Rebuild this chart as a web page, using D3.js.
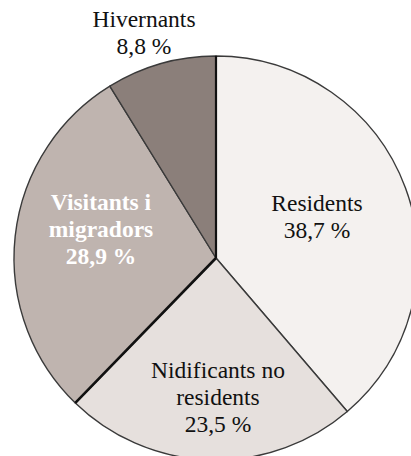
<!DOCTYPE html>
<html>
<head>
<meta charset="utf-8">
<script src="https://cdn.jsdelivr.net/npm/d3@7"></script>
<style>
  body { margin: 0; background: #fff; }
</style>
</head>
<body>
<script>
// bird status shares (%)
var categories = ['Residents', 'Nidificants no residents', 'Visitants i migradors', 'Hivernants'];
var shares = [38.7, 23.5, 28.9, 8.8];
var shareLabels = ['38,7 %', '23,5 %', '28,9 %', '8,8 %'];
var labelLines = [['Residents'], ['Nidificants no', 'residents'], ['Visitants i', 'migradors'], ['Hivernants']];
var sliceColors = ['#f4f1ef', '#e6e0dd', '#bfb4af', '#8b7f7a'];

var width = 411, height = 456;
var cx = 216, cy = 258, radius = 202;

var svg = d3.select('body').append('svg')
  .attr('width', width)
  .attr('height', height);

var pie = d3.pie().sort(null).value(function(d) { return d; });
var arc = d3.arc().innerRadius(0).outerRadius(radius);
var arcs = pie(shares);

var g = svg.append('g').attr('transform', 'translate(' + cx + ',' + cy + ')');

g.selectAll('path')
  .data(arcs)
  .enter()
  .append('path')
  .attr('d', arc)
  .style('fill', function(d, i) { return sliceColors[i]; })
  .style('stroke', '#3a3a3a')
  .style('stroke-width', 1.4)
  .style('stroke-linejoin', 'round');

// the darker radial edges of the original
function edge(angle, w) {
  g.append('line')
    .attr('x1', 0).attr('y1', 0)
    .attr('x2', radius * Math.sin(angle))
    .attr('y2', -radius * Math.cos(angle))
    .style('stroke', '#111')
    .style('stroke-width', w);
}
edge(arcs[0].startAngle, 2.2);
edge(arcs[1].endAngle, 2.6);

// label anchors
var labelPos = [
  {x: 317, y: 211, color: '#111', weight: 'normal'},
  {x: 218, y: 378, color: '#111', weight: 'normal'},
  {x: 101, y: 210, color: '#fff', weight: 'bold'},
  {x: 144, y: 27, color: '#111', weight: 'normal'}
];
var lineH = 27;

categories.forEach(function(c, i) {
  var p = labelPos[i];
  var lines = labelLines[i].concat([shareLabels[i]]);
  var t = svg.append('text')
    .attr('text-anchor', 'middle')
    .attr('fill', p.color)
    .style('font-family', "'Liberation Serif', 'Times New Roman', serif")
    .attr('font-weight', p.weight)
    .attr('font-size', 23.5);
  lines.forEach(function(l, j) {
    t.append('tspan')
      .attr('x', p.x)
      .attr('y', p.y + j * lineH)
      .text(l);
  });
});
</script>
</body>
</html>
